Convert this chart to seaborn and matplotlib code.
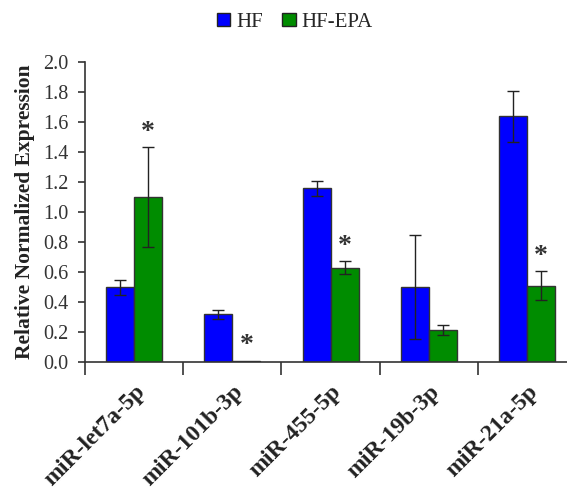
import numpy as np
import pandas as pd
import matplotlib
matplotlib.use("Agg")
import matplotlib.pyplot as plt
import seaborn as sns

# data
mirnas = ["miR-let7a-5p", "miR-101b-3p", "miR-455-5p", "miR-19b-3p", "miR-21a-5p"]
groups = ["HF", "HF-EPA"]
hf_mean = [0.50, 0.32, 1.16, 0.50, 1.64]
hf_err = [0.05, 0.03, 0.05, 0.345, 0.17]
epa_mean = [1.10, 0.01, 0.63, 0.215, 0.51]
epa_err = [0.335, 0.0, 0.045, 0.035, 0.095]
epa_signif = [True, True, True, False, True]

df = pd.DataFrame({
    "miRNA": mirnas * 2,
    "group": [groups[0]] * len(mirnas) + [groups[1]] * len(mirnas),
    "value": hf_mean + epa_mean,
    "err": hf_err + epa_err,
})

sns.set_style("ticks")
plt.rcParams["font.family"] = ["Liberation Serif", "DejaVu Serif"]

fig = plt.figure(figsize=(5.67, 4.93), dpi=100)
ax = fig.add_axes([0.150, 0.2657, 0.866, 0.6085])

palette = {"HF": "#0000ff", "HF-EPA": "#008c00"}
sns.barplot(data=df, x="miRNA", y="value", hue="group", palette=palette,
            errorbar=None, width=0.57, edgecolor="#333333", linewidth=1.0,
            saturation=1, ax=ax, legend=False)

# error bars and asterisks on top of the bars
bar_sets = list(ax.containers)
for i, cont in enumerate(bar_sets):
    sub = df[df["group"] == groups[i]]
    for j, bar in enumerate(cont):
        xc = bar.get_x() + bar.get_width() / 2
        h = bar.get_height()
        e = sub["err"].iloc[j]
        if e > 0:
            ax.errorbar(xc, h, yerr=e, fmt="none", ecolor="#222222",
                        elinewidth=1.0, capsize=4, capthick=1.0)
        if i == 1 and epa_signif[j]:
            ax.text(xc, h + e + 0.015, "*", ha="center", va="bottom",
                    fontsize=20, fontweight="bold", color="#333333")

ax.set_ylim(0, 2.0)
ax.set_yticks(np.arange(0, 2.01, 0.2))
ax.set_yticklabels([f"{v:.1f}" for v in np.arange(0, 2.01, 0.2)], fontsize=14.5, color="#333333")
ax.set_xlim(-0.5, len(mirnas) - 0.5)

# ticks at category boundaries, labels at centres
ax.set_xticks(np.arange(len(mirnas)))
ax.set_xticklabels(mirnas, rotation=45, ha="right", rotation_mode="anchor",
                   fontsize=17, fontweight="bold", color="#222222")
ax.tick_params(axis="x", which="major", length=0, pad=14)
ax.set_xticks(np.arange(len(mirnas)) - 0.5, minor=True)
ax.tick_params(axis="x", which="minor", length=9, width=1.2, color="#333333", direction="out")
ax.tick_params(axis="y", length=5, width=1.2, color="#333333", direction="out", pad=7)

ax.set_xlabel("")
ax.set_ylabel("Relative Normalized Expression", fontsize=15.5, fontweight="bold", color="#222222")
ax.yaxis.set_label_coords(-0.102, 0.5)

for side in ["top", "right"]:
    ax.spines[side].set_visible(False)
for side in ["left", "bottom"]:
    ax.spines[side].set_color("#333333")
    ax.spines[side].set_linewidth(1.2)

handles = [plt.Rectangle((0, 0), 1, 1, facecolor=palette[g], edgecolor="#222222", linewidth=1.0)
           for g in groups]
fig.legend(handles, groups, loc="center", bbox_to_anchor=(0.52, 0.955), ncol=2,
           frameon=False, fontsize=15, handlelength=0.65, handleheight=0.65,
           handletextpad=0.3, columnspacing=0.9)

fig.savefig("out.png", dpi=100)
